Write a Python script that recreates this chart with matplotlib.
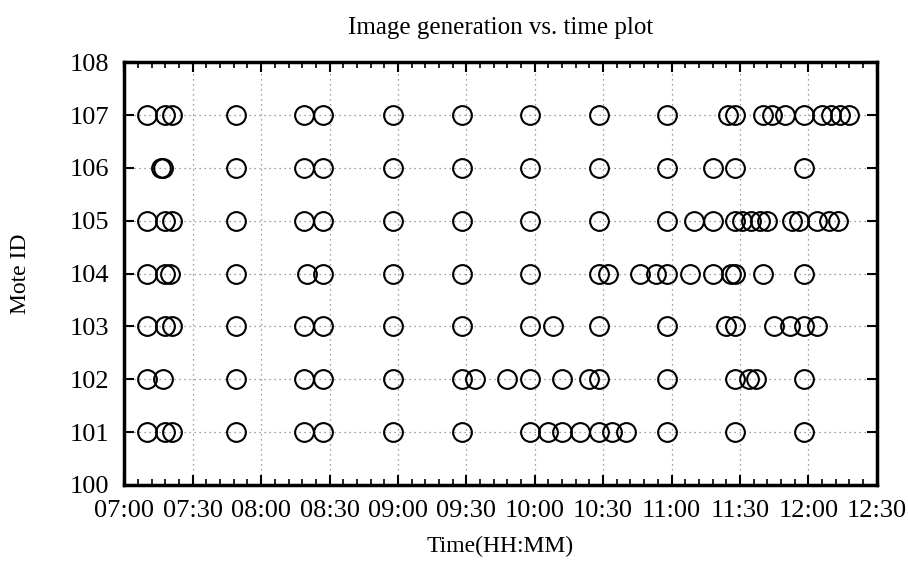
import pandas as pd
import matplotlib.pyplot as plt
import matplotlib.dates as mdates

plt.rcParams['font.family'] = ['Liberation Serif', 'DejaVu Serif']

# image generation times per mote (HH:MM)
t101 = ["07:10", "07:18", "07:21", "07:49", "08:19", "08:27", "08:58", "09:28", "09:58",
        "10:06", "10:12", "10:20", "10:28", "10:34", "10:40", "10:58", "11:28", "11:58"]
t102 = ["07:10", "07:17", "07:49", "08:19", "08:27", "08:58", "09:28", "09:34", "09:48",
        "09:58", "10:12", "10:24", "10:28", "10:58", "11:28", "11:34", "11:37", "11:58"]
t103 = ["07:10", "07:18", "07:21", "07:49", "08:19", "08:27", "08:58", "09:28", "09:58",
        "10:08", "10:28", "10:58", "11:24", "11:28", "11:45", "11:52", "11:58", "12:04"]
t104 = ["07:10", "07:18", "07:20", "07:49", "08:20", "08:27", "08:58", "09:28", "09:58",
        "10:28", "10:32", "10:46", "10:53", "10:58", "11:08", "11:18", "11:26", "11:28",
        "11:40", "11:58"]
t105 = ["07:10", "07:18", "07:21", "07:49", "08:19", "08:27", "08:58", "09:28", "09:58",
        "10:28", "10:58", "11:10", "11:18", "11:28", "11:31", "11:35", "11:39", "11:42",
        "11:53", "11:56", "12:04", "12:09", "12:13"]
t106 = ["07:16", "07:17", "07:49", "08:19", "08:27", "08:58", "09:28", "09:58", "10:28",
        "10:58", "11:18", "11:28", "11:58"]
t107 = ["07:10", "07:18", "07:21", "07:49", "08:19", "08:27", "08:58", "09:28", "09:58",
        "10:28", "10:58", "11:25", "11:28", "11:40", "11:44", "11:50", "11:58", "12:06",
        "12:10", "12:14", "12:18"]

motes = [101, 102, 103, 104, 105, 106, 107]
times = [t101, t102, t103, t104, t105, t106, t107]

day = "2010-01-01 "
fig = plt.figure(figsize=(9.08, 5.61), dpi=100)
ax = fig.add_axes([0.137, 0.1355, 0.8285, 0.7535])

for mote, ts in zip(motes, times):
    x = pd.to_datetime([day + t for t in ts])
    ax.plot(x, [mote] * len(x), 'o', mfc='none', mec='black', ms=13.5, mew=1.5)

ax.set_xlim(pd.Timestamp(day + "07:00"), pd.Timestamp(day + "12:30"))
ax.set_ylim(100, 108)
ax.xaxis.set_major_locator(mdates.MinuteLocator(byminute=[0, 30]))
ax.xaxis.set_minor_locator(mdates.MinuteLocator(byminute=range(0, 60, 6)))
ax.xaxis.set_major_formatter(mdates.DateFormatter('%H:%M'))
ax.set_yticks(range(100, 109))

ax.grid(True, which='major', linestyle=(0, (1, 3)), color='gray', linewidth=0.9)
ax.tick_params(which='both', direction='in', top=True, right=True, labelsize=19, colors='black')
ax.tick_params(which='major', length=7, width=1.5)
ax.tick_params(which='minor', length=4, width=1.2)
ax.tick_params(axis='x', pad=11)
ax.tick_params(axis='y', pad=11)
for s in ax.spines.values():
    s.set_linewidth(2.5)

ax.set_title('Image generation vs. time plot', fontsize=18, pad=20)
ax.set_xlabel('Time(HH:MM)', fontsize=17, labelpad=10)
ax.set_ylabel('Mote ID', fontsize=17, labelpad=28)

fig.savefig('out.png', dpi=100)
